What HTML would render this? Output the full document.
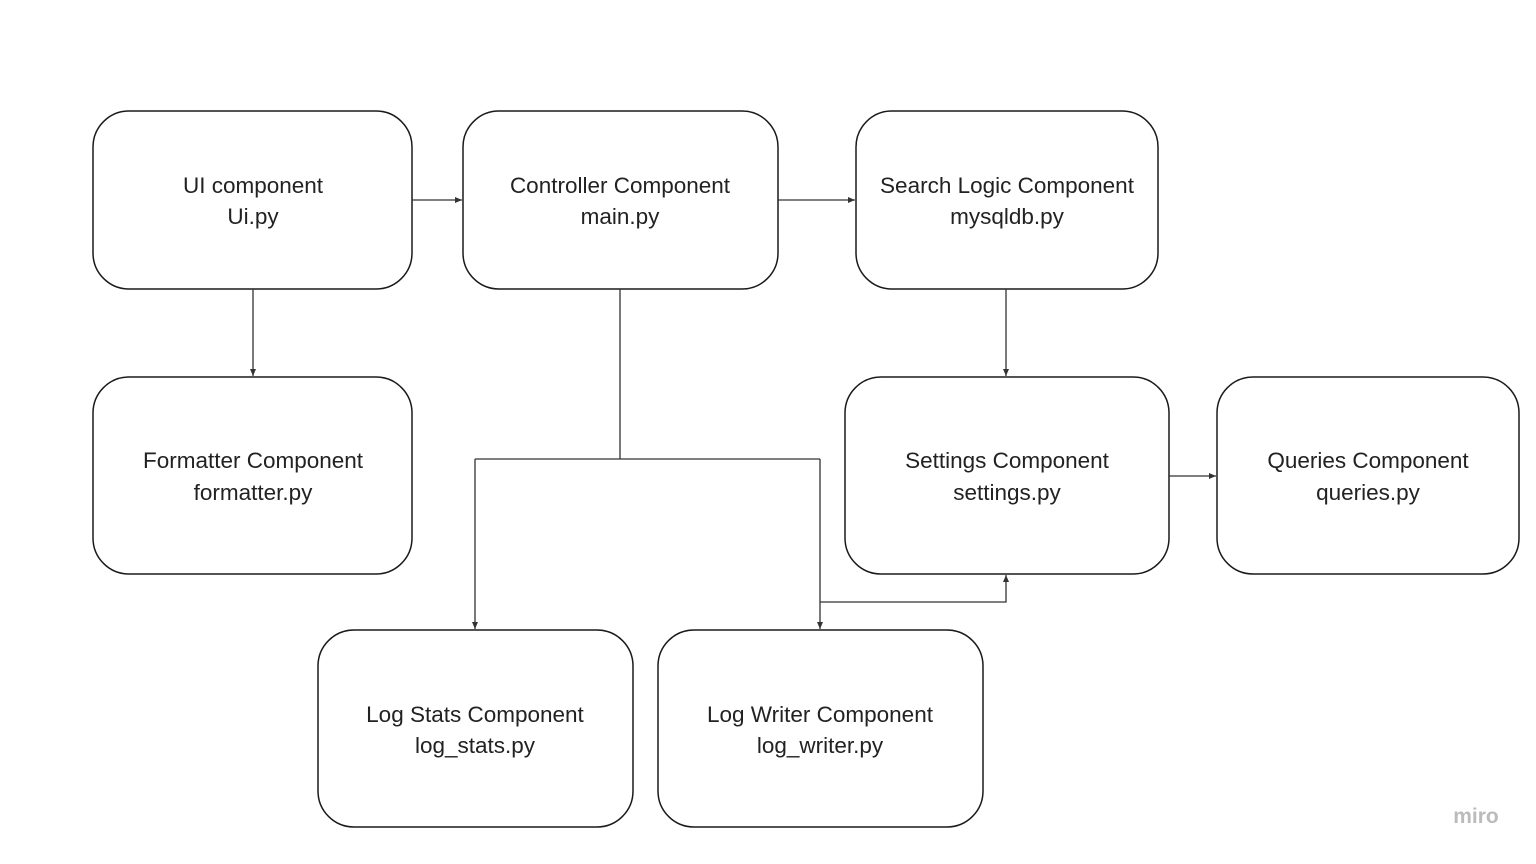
<!DOCTYPE html>
<html><head><meta charset="utf-8"><style>
html,body{margin:0;padding:0;background:#fff;}
svg{display:block;}
text{font-family:"Liberation Sans",sans-serif;font-size:22.5px;fill:#222;text-anchor:middle;}
</style></head><body>
<svg width="1536" height="864" viewBox="0 0 1536 864" xmlns="http://www.w3.org/2000/svg">
<defs><marker id="a" markerWidth="8" markerHeight="8" refX="7" refY="4" orient="auto" markerUnits="userSpaceOnUse"><path d="M0,1 L7,4 L0,7 z" fill="#333"/></marker></defs>
<g fill="#fff" stroke="#1a1a1a" stroke-width="1.5">
<rect x="93" y="111" width="319" height="178" rx="36"/>
<rect x="463" y="111" width="315" height="178" rx="36"/>
<rect x="856" y="111" width="302" height="178" rx="36"/>
<rect x="93" y="377" width="319" height="197" rx="36"/>
<rect x="845" y="377" width="324" height="197" rx="36"/>
<rect x="1217" y="377" width="302" height="197" rx="36"/>
<rect x="318" y="630" width="315" height="197" rx="36"/>
<rect x="658" y="630" width="325" height="197" rx="36"/>
</g>
<g stroke="#333" stroke-width="1.3" fill="none">
<path d="M412,200 H462" marker-end="url(#a)"/>
<path d="M778,200 H855" marker-end="url(#a)"/>
<path d="M253,289 V376" marker-end="url(#a)"/>
<path d="M1006,289 V376" marker-end="url(#a)"/>
<path d="M620,289 V459 M475,459 H820"/>
<path d="M475,459 V629" marker-end="url(#a)"/>
<path d="M820,459 V629" marker-end="url(#a)"/>
<path d="M1169,476 H1216" marker-end="url(#a)"/>
<path d="M820,602 H1006 V575" marker-end="url(#a)"/>
</g>
<text x="253" y="193">UI component</text><text x="253" y="224">Ui.py</text>
<text x="620" y="193">Controller Component</text><text x="620" y="224">main.py</text>
<text x="1007" y="193">Search Logic Component</text><text x="1007" y="224">mysqldb.py</text>
<text x="253" y="468">Formatter Component</text><text x="253" y="500">formatter.py</text>
<text x="1007" y="468">Settings Component</text><text x="1007" y="500">settings.py</text>
<text x="1368" y="468">Queries Component</text><text x="1368" y="500">queries.py</text>
<text x="475" y="722">Log Stats Component</text><text x="475" y="753">log_stats.py</text>
<text x="820" y="722">Log Writer Component</text><text x="820" y="753">log_writer.py</text>
<text x="1476" y="823" style="fill:#bbb;font-size:21px;font-weight:bold">miro</text>
</svg>
</body></html>
